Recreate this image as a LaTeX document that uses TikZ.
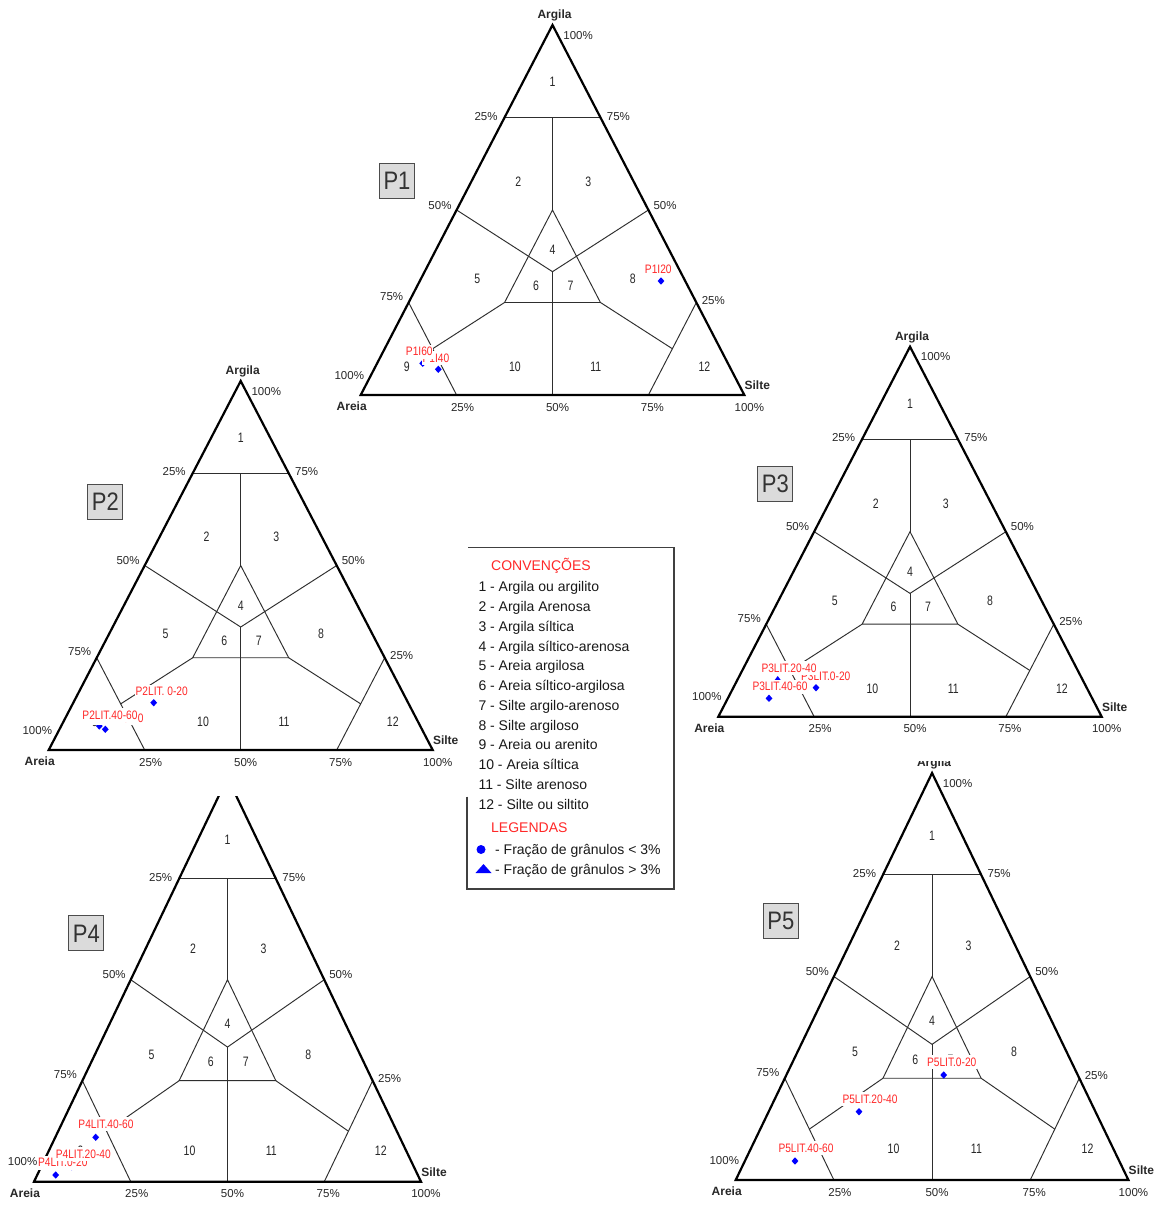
\documentclass[tikz,border=0pt]{standalone}
\usepackage{fontspec}
\setmainfont{Liberation Sans}
\usetikzlibrary{shapes.geometric}
\definecolor{labred}{RGB}{255,40,40}
\definecolor{dotblue}{RGB}{0,0,255}
\definecolor{inkgray}{RGB}{40,40,40}
\newcommand{\rsx}[1]{\scalebox{1}[1.3]{#1}}
\newcommand{\plx}[1]{\scalebox{1}[1.2]{#1}}
\newcommand{\pbx}[1]{\scalebox{1}[1.15]{#1}}
\tikzset{
 outline/.style={line width=2.2pt, black, line join=miter},
 innerln/.style={line width=0.95pt, black!82},
 ticklab/.style={font=\fontsize{11.5}{12}\selectfont, text=inkgray, inner sep=0pt, text height=8.2pt, text depth=0pt},
 axisname/.style={font=\bfseries\fontsize{12}{13}\selectfont, text=inkgray, inner sep=0pt, text height=8.6pt, text depth=0pt},
 regionlab/.style={font=\fontsize{10.5}{12}\selectfont, text=inkgray, inner sep=0pt, text height=9.8pt, text depth=0pt},
 ptlab/.style={font=\fontsize{10.2}{11}\selectfont, text=labred, fill=white, inner xsep=0.8pt, inner ysep=2.4pt, text height=8.8pt, text depth=0.6pt},
 dotmark/.style={diamond, fill=dotblue, inner sep=0pt, minimum width=7pt, minimum height=7.5pt},
 pbox/.style={draw=black!70, fill=black!14, line width=1pt, minimum width=35pt, minimum height=35pt, font=\fontsize{22}{24}\selectfont, text=black!80, inner sep=0pt},
 legtext/.style={font=\fontsize{14}{15}\selectfont, text=black!90, anchor=base west, inner sep=0pt},
}
\newcommand{\ternplot}[5]{%
\begin{scope}[shift={(#2,#3)}, x=#4pt, y=#5pt]
 \draw[innerln] (0.375,0.75) -- (0.625,0.75);
 \draw[innerln] (0.5,0.75) -- (0.5,0.5);
 \draw[innerln] (0.5,0.5) -- (0.375,0.25) -- (0.625,0.25) -- cycle;
 \draw[innerln] (0.25,0.5) -- (0.5,0.3333) -- (0.75,0.5);
 \draw[innerln] (0.5,0.3333) -- (0.5,0);
 \draw[innerln] (0.375,0.25) -- (0.1875,0.125);
 \draw[innerln] (0.625,0.25) -- (0.8125,0.125);
 \draw[innerln] (0.125,0.25) -- (0.25,0);
 \draw[innerln] (0.875,0.25) -- (0.75,0);
 \draw[outline] (0,0) -- (1,0) -- (0.5,1) -- cycle;
 \node[regionlab] (#1-r1) at (0.5,0.847) {\rsx{1}};
 \node[regionlab] (#1-r2) at (0.411,0.577) {\rsx{2}};
 \node[regionlab] (#1-r3) at (0.593,0.577) {\rsx{3}};
 \node[regionlab] (#1-r4) at (0.5,0.392) {\rsx{4}};
 \node[regionlab] (#1-r5) at (0.304,0.315) {\rsx{5}};
 \node[regionlab] (#1-r6) at (0.457,0.297) {\rsx{6}};
 \node[regionlab] (#1-r7) at (0.547,0.297) {\rsx{7}};
 \node[regionlab] (#1-r8) at (0.709,0.315) {\rsx{8}};
 \node[regionlab] (#1-r9) at (0.12,0.077) {\rsx{9}};
 \node[regionlab] (#1-r10) at (0.402,0.077) {\rsx{10}};
 \node[regionlab] (#1-r11) at (0.613,0.077) {\rsx{11}};
 \node[regionlab] (#1-r12) at (0.896,0.077) {\rsx{12}};
 \node[axisname, xshift=2pt, yshift=10.5pt] (#1-argila) at (0.5,1) {Argila};
 \node[axisname, xshift=-9pt, yshift=-11pt] (#1-areia) at (0,0) {Areia};
 \node[axisname, xshift=13pt, yshift=10pt] (#1-silte) at (1,0) {Silte};
 \node[ticklab, xshift=25.6pt, yshift=-10pt] (#1-ta100) at (0.5,1) {100\%};
 \node[ticklab, xshift=-18.5pt, yshift=1.5pt] (#1-tl25) at (0.375,0.75) {25\%};
 \node[ticklab, xshift=18pt, yshift=1.5pt] (#1-tr75) at (0.625,0.75) {75\%};
 \node[ticklab, xshift=-16.6pt, yshift=5pt] (#1-tl50) at (0.25,0.5) {50\%};
 \node[ticklab, xshift=16.6pt, yshift=5pt] (#1-tr50) at (0.75,0.5) {50\%};
 \node[ticklab, xshift=-17pt, yshift=6pt] (#1-tl75) at (0.125,0.25) {75\%};
 \node[ticklab, xshift=17pt, yshift=2.5pt] (#1-tr25) at (0.875,0.25) {25\%};
 \node[ticklab, xshift=-11.4pt, yshift=20pt] (#1-tl100) at (0,0) {100\%};
 \node[ticklab, xshift=6pt, yshift=-12pt] (#1-tb25) at (0.25,0) {25\%};
 \node[ticklab, xshift=5pt, yshift=-12pt] (#1-tb50) at (0.5,0) {50\%};
 \node[ticklab, xshift=4pt, yshift=-12pt] (#1-tb75) at (0.75,0) {75\%};
 \node[ticklab, xshift=5pt, yshift=-12pt] (#1-tb100) at (1,0) {100\%};
\end{scope}}
\begin{document}
\begin{tikzpicture}[x=1pt, y=-1pt]
\useasboundingbox (0,0) rectangle (1163,1206);
\fill[white] (0,0) rectangle (1163,1206);

% ---------- P1 ----------
\ternplot{p1}{360.7}{395}{383.6}{370}
\node[pbox] (p1box) at (397,180.7) {\pbx{P1}};
\node[dotmark] (p1d20) at (661,281) {};
\node[dotmark] (p1d60) at (422.7,363.3) {};
\node[dotmark] (p1d40) at (438.3,369.3) {};
\node[ptlab] (p1l20) at (658.3,269.3) {\plx{P1I20}};
\node[ptlab] (p1l40) at (436,358.3) {\plx{P1I40}};
\node[ptlab] (p1l60) at (419.3,351.7) {\plx{P1I60}};

% ---------- P2 ----------
\ternplot{p2}{48.7}{750}{384}{369}
\node[pbox] (p2box) at (105.3,501.7) {\pbx{P2}};
\node[dotmark] (p2d20) at (153.7,702.7) {};
\node[dotmark] (p2d40) at (99.3,726) {};
\node[dotmark] (p2d60) at (105.3,729.3) {};
\node[ptlab] (p2l20) at (161.7,691.7) {\plx{P2LIT. 0-20}};
\node[ptlab] (p2l40) at (116,718.3) {\plx{P2LIT.20-40}};
\node[ptlab] (p2l60) at (110,715) {\plx{P2LIT.40-60}};

% ---------- P3 ----------
\ternplot{p3}{718.3}{716.7}{383.4}{370}
\node[pbox] (p3box) at (775.3,483.5) {\pbx{P3}};
\fill[dotblue] (771.7,684) -- (783.7,684) -- (777.7,676) -- cycle;
\node[dotmark] (p3d20) at (816,687.7) {};
\node[dotmark] (p3d60) at (769,698.3) {};
\node[ptlab] (p3l20) at (825.7,676.5) {\plx{P3LIT.0-20}};
\node[ptlab] (p3l40) at (789,668.3) {\plx{P3LIT.20-40}};
\node[ptlab] (p3l60) at (780,686.7) {\plx{P3LIT.40-60}};

% ---------- legend ----------
\draw[black!75, line width=1.2pt] (467,796.7) -- (467,889) -- (674,889) -- (674,547.3) -- (467.5,547.3);
\node[legtext, text=labred] (conv) at (491,570) {CONVENÇÕES};
\node[legtext] (c1) at (478.3,591.7) {1 - Argila ou argilito};
\node[legtext] (c2) at (478.3,611.5) {2 - Argila Arenosa};
\node[legtext] (c3) at (478.3,631.3) {3 - Argila síltica};
\node[legtext] (c4) at (478.3,651.0) {4 - Argila síltico-arenosa};
\node[legtext] (c5) at (478.3,670.8) {5 - Areia argilosa};
\node[legtext] (c6) at (478.3,690.6) {6 - Areia síltico-argilosa};
\node[legtext] (c7) at (478.3,710.4) {7 - Silte argilo-arenoso};
\node[legtext] (c8) at (478.3,730.2) {8 - Silte argiloso};
\node[legtext] (c9) at (478.3,749.9) {9 - Areia ou arenito};
\node[legtext] (c10) at (478.3,769.7) {10 - Areia síltica};
\node[legtext] (c11) at (478.3,789.5) {11 - Silte arenoso};
\node[legtext] (c12) at (478.3,809.3) {12 - Silte ou siltito};
\node[legtext, text=labred] (leg) at (491,832.3) {LEGENDAS};
\node[circle, fill=dotblue, inner sep=0pt, minimum size=9pt] (legdot) at (481,849.5) {};
\fill[dotblue] (475.5,873) -- (491.5,873) -- (483.5,864) -- cycle;
\node[legtext] (l1) at (495,854.3) {- Fração de grânulos < 3\%};
\node[legtext] (l2) at (495,874.3) {- Fração de grânulos > 3\%};

% ---------- P4 ----------
\begin{scope}
\clip (0,796.7) rectangle (1163,1206);
\ternplot{p4}{34}{1181.7}{387}{404}
\fill[white] (400.5,1070) rectangle (407,1086);
\node[pbox] (p4box) at (86.3,933.3) {\pbx{P4}};
\node[dotmark] (p4d60) at (95.7,1137.3) {};
\node[dotmark] (p4d40) at (71.7,1166.7) {};
\node[dotmark] (p4d20) at (55.7,1175) {};
\node[ptlab] (p4l20) at (62.8,1162.7) {\plx{P4LIT.0-20}};
\node[ptlab] (p4l40) at (83.3,1154) {\plx{P4LIT.20-40}};
\node[ptlab] (p4l60) at (106,1124.3) {\plx{P4LIT.40-60}};
\end{scope}

% ---------- P5 ----------
\begin{scope}
\clip (690,761) rectangle (1163,1206);
\ternplot{p5}{735.7}{1180}{392.7}{407}
\node[pbox] (p5box) at (780.8,920.8) {\pbx{P5}};
\node[dotmark] (p5d20) at (943.7,1075) {};
\node[dotmark] (p5d40) at (859,1111.7) {};
\node[dotmark] (p5d60) at (795,1161) {};
\node[ptlab] (p5l20) at (951.7,1062.3) {\plx{P5LIT.0-20}};
\node[ptlab] (p5l40) at (870,1099.3) {\plx{P5LIT.20-40}};
\node[ptlab] (p5l60) at (806,1148.3) {\plx{P5LIT.40-60}};
\end{scope}
\end{tikzpicture}
\end{document}
